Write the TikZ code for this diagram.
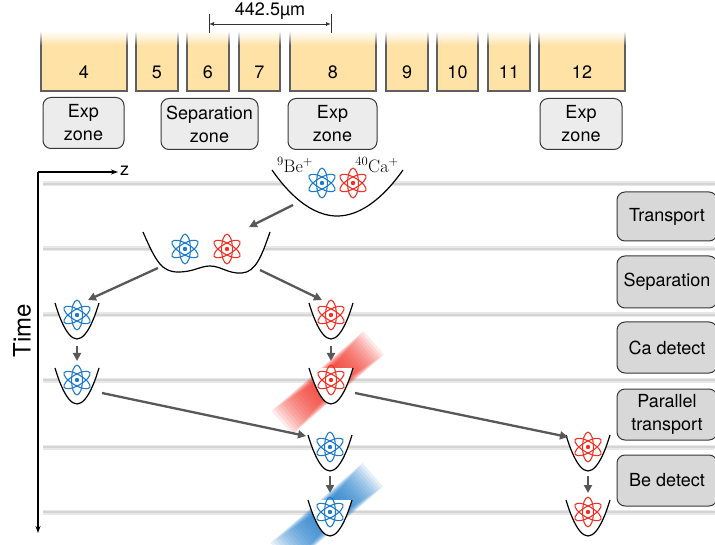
\documentclass[tikz,border=0pt]{standalone}
\usepackage{fontspec}
\setmainfont{TeX Gyre Heros}
\newfontfamily\lmr{Latin Modern Roman}
\usetikzlibrary{arrows.meta,calc}

\definecolor{elec}{RGB}{254,226,166}
\definecolor{elecedge}{RGB}{95,95,95}
\definecolor{zonefill}{RGB}{236,236,236}
\definecolor{stepfill}{RGB}{216,216,216}
\definecolor{boxedge}{RGB}{55,55,55}
\definecolor{beblue}{RGB}{28,122,200}
\definecolor{cared}{RGB}{240,48,36}
\definecolor{flowgray}{RGB}{88,88,88}
\definecolor{band}{RGB}{212,212,212}
\definecolor{bandhalo}{RGB}{232,232,232}

\tikzset{
  txt/.style={font=\fontsize{18}{23}\selectfont, inner sep=0pt},
  elabel/.style={txt},
  zonebox/.style={txt, draw=boxedge, line width=1pt, fill=zonefill, rounded corners=8pt, align=center},
  stagebox/.style={txt, draw=boxedge, line width=1pt, fill=stepfill, rounded corners=8pt, align=center,
                   minimum width=100pt},
  flow/.style={draw=flowgray, line width=2.3pt, -{Triangle[length=8pt,width=8pt]}},
  welline/.style={line width=1.2pt, black},
  timeband/.style={band, line width=2.6pt},
  pics/atom/.style={code={
    \begin{scope}[#1, line width=1.1pt]
      \draw (0,0) ellipse [x radius=14.8, y radius=5.4, rotate=90];
      \draw (0,0) ellipse [x radius=14.8, y radius=5.4, rotate=30];
      \draw (0,0) ellipse [x radius=14.8, y radius=5.4, rotate=-30];
      \fill (0,0) circle [radius=2.2];
    \end{scope}}},
  pics/trap/.style={code={
    \fill[white] (-22,-12) parabola bend (0,24) (22,-12) -- cycle;
    \draw[welline] (-22,-12) parabola bend (0,24) (22,-12);}},
  pics/beam/.style={code={
    \begin{scope}[rotate=41]
      \foreach \k in {1,...,16}
        \fill[#1, opacity=0.1] (-14-3.2*\k,-8.5-0.45*\k) rectangle (12+2.8*\k,8.5+0.45*\k);
    \end{scope}}}
}

\begin{document}
\begin{tikzpicture}[x=1pt, y=-1pt]
\useasboundingbox (0,0) rectangle (715,545);

% ---- electrodes of the trap ----
\foreach \xa/\xb/\num in {41/127/4, 136/178/5, 187/229/6, 239/280/7, 290/376/8,
                          386/428/9, 437/478/10, 488/530/11, 539/625/12} {
  \fill[elec] (\xa,45) rectangle (\xb,91);
  \shade[top color=white, bottom color=elec] (\xa,31) rectangle (\xb,45.5);
  \draw[elecedge, line width=1.4pt] (\xa,45) -- (\xa,91) -- (\xb,91) -- (\xb,45);
  \shade[top color=white, bottom color=elecedge] (\xa-0.7,31) rectangle (\xa+0.7,45.2);
  \shade[top color=white, bottom color=elecedge] (\xb-0.7,31) rectangle (\xb+0.7,45.2);
  \node[elabel] (e\num) at ({(\xa+\xb)/2},72) {\num};
}

% electrode pitch
\coordinate (d1) at (209,24);
\coordinate (d2) at (331,24);
\draw[black!80, line width=0.9pt] (209,14) -- (209,33) (331,14) -- (331,33);
\draw[black!80, line width=0.9pt, {Latex[length=5pt,width=4pt]}-{Latex[length=5pt,width=4pt]}] (d1) -- (d2);
\node[txt] (pitch) at (270,11) {442.5µm};

% zones
\node[zonebox, minimum width=81pt, minimum height=51pt] (z1) at (83.5,123) {Exp\\zone};
\node[zonebox, minimum width=97pt, minimum height=51pt] (z2) at (209.5,124) {Separation\\zone};
\node[zonebox, minimum width=89pt, minimum height=51pt] (z3) at (332.5,124) {Exp\\zone};
\node[zonebox, minimum width=82pt, minimum height=51pt] (z4) at (581,124) {Exp\\zone};

% ---- time steps ----
\foreach \y in {184,249,315,380,447,512} {
  \draw[bandhalo, line width=5pt] (43,\y) -- (715,\y);
  \draw[timeband] (43,\y) -- (715,\y);
}

% axes
\coordinate (o) at (38,172);
\coordinate (zend) at (118,172);
\coordinate (tend) at (38,533);
\draw[line width=1.3pt, -{Stealth[length=7pt,width=5pt]}] (o) -- (zend);
\draw[line width=1.3pt, -{Stealth[length=7pt,width=5pt]}] (o) -- (tend);
\node[txt, anchor=west] (zlab) at (120,171) {z};
\node[txt, font=\fontsize{24}{28}\selectfont, rotate=90] (tlab) at (22,331) {Time};

% stages
\node[stagebox, minimum height=49pt] (s1) at (667,216.5) {Transport};
\node[stagebox, minimum height=52pt] (s2) at (667,282) {Separation};
\node[stagebox, minimum height=51pt] (s3) at (667,347.5) {Ca detect};
\node[stagebox, minimum height=51pt] (s4) at (667,414.5) {Parallel\\transport};
\node[stagebox, minimum height=51pt] (s5) at (667,480.5) {Be detect};

% laser light on the ions being read out
\pic (glowca) at (331,380) {beam=cared};
\pic (glowbe) at (330,512) {beam=beblue};

% common well with both ions
\fill[white] (272,170) parabola bend (337,216) (403,170) -- cycle;
\draw[welline] (272,170) parabola bend (337,216) (403,170);
\pic (be0) at (322,183) {atom=beblue};
\pic (ca0) at (353,183) {atom=cared};
\node[inner sep=0pt, font=\lmr\fontsize{18}{20}\selectfont] (belab) at (295,165) {\textsuperscript{9}Be\textsuperscript{+}};
\node[inner sep=0pt, font=\lmr\fontsize{18}{20}\selectfont] (calab) at (377,165) {\textsuperscript{40}Ca\textsuperscript{+}};

% double well
\fill[white] (143,232) .. controls (156,262) and (162,272) .. (178,272)
  .. controls (194,272) and (200,266) .. (210,266)
  .. controls (221,266) and (228,274) .. (242,273)
  .. controls (256,272) and (262,255) .. (270,232) -- cycle;
\draw[welline] (143,232) .. controls (156,262) and (162,272) .. (178,272)
  .. controls (194,272) and (200,266) .. (210,266)
  .. controls (221,266) and (228,274) .. (242,273)
  .. controls (256,272) and (262,255) .. (270,232);
\pic (be1) at (185,249) {atom=beblue};
\pic (ca1) at (227,249) {atom=cared};

% single wells
\pic (tb2) at (77,315) {trap};   \pic (be2) at (77,315) {atom=beblue};
\pic (tc2) at (331,315) {trap};  \pic (ca2) at (331,315) {atom=cared};
\pic (tb3) at (77,380) {trap};   \pic (be3) at (77,380) {atom=beblue};
\pic (tc3) at (331,380) {trap};  \pic (ca3) at (331,380) {atom=cared};
\pic (tb4) at (330,447) {trap};  \pic (be4) at (330,447) {atom=beblue};
\pic (tc4) at (588,447) {trap};  \pic (ca4) at (588,447) {atom=cared};
\pic (tb5) at (330,512) {trap};  \pic (be5) at (330,512) {atom=beblue};
\pic (tc5) at (588,512) {trap};  \pic (ca5) at (588,512) {atom=cared};

% ---- flow between steps ----
\coordinate (f0s) at (293,205);  \coordinate (f0e) at (249,227);
\coordinate (f1s) at (158,268);  \coordinate (f1e) at (88,300);
\coordinate (f2s) at (260,270);  \coordinate (f2e) at (322,300);
\coordinate (f3s) at (77,346);   \coordinate (f3e) at (77,361);
\coordinate (f4s) at (331,346);  \coordinate (f4e) at (331,361);
\coordinate (f5s) at (102,393);  \coordinate (f5e) at (306,436);
\coordinate (f6s) at (355,393);  \coordinate (f6e) at (568,437);
\coordinate (f7s) at (330,476);  \coordinate (f7e) at (330,493);
\coordinate (f8s) at (588,476);  \coordinate (f8e) at (588,493);
\foreach \i in {0,...,8}
  \draw[flow] (f\i s) -- (f\i e);

\end{tikzpicture}
\end{document}
